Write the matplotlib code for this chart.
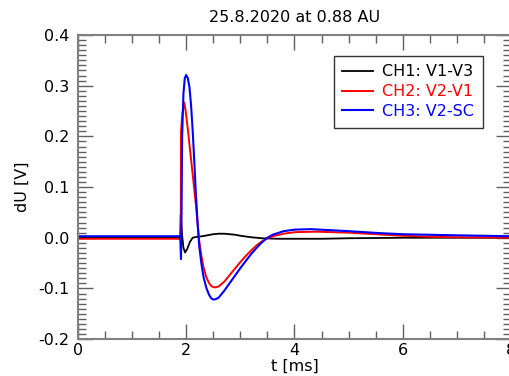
import numpy as np
import matplotlib
matplotlib.use("Agg")
from matplotlib import pyplot as plt
from matplotlib.ticker import MultipleLocator, FormatStrFormatter

plt.rcParams['axes.unicode_minus'] = False
plt.rcParams['font.family'] = 'DejaVu Sans'

# CH1: V1-V3 (black)
t1 = [0.0, 1.0, 1.89, 1.90, 1.92, 1.95, 1.98, 2.02, 2.07, 2.12, 2.2, 2.3, 2.4, 2.5,
      2.6, 2.7, 2.8, 2.9, 3.0, 3.2, 3.4, 3.7, 4.0, 4.5, 5.0, 6.0, 7.0, 8.0]
v1 = [0.001, 0.001, 0.001, 0.045, 0.01, -0.02, -0.029, -0.022, -0.008, 0.0, 0.002, 0.003,
      0.005, 0.007, 0.008, 0.008, 0.007, 0.006, 0.004, 0.001, -0.001, -0.002, -0.002,
      -0.002, -0.001, 0.0, 0.0, 0.0]

# CH2: V2-V1 (red)
t2 = [0.0, 1.0, 1.90, 1.905, 1.93, 1.965, 1.99, 2.03, 2.07, 2.11, 2.15, 2.18, 2.21,
      2.24, 2.28, 2.32, 2.37, 2.42, 2.47, 2.53, 2.6, 2.7, 2.8, 2.9, 3.0, 3.1, 3.2, 3.3,
      3.4, 3.5, 3.6, 3.8, 4.0, 4.4, 5.0, 5.5, 6.0, 6.5, 7.0, 8.0]
v2 = [-0.002, -0.002, -0.002, 0.21, 0.245, 0.267, 0.25, 0.215, 0.175, 0.135, 0.095,
      0.065, 0.03, -0.005, -0.035, -0.058, -0.077, -0.089, -0.096, -0.098, -0.096,
      -0.087, -0.074, -0.061, -0.048, -0.036, -0.025, -0.015, -0.007, -0.001, 0.003,
      0.008, 0.011, 0.012, 0.010, 0.007, 0.004, 0.002, 0.001, 0.0]

# CH3: V2-SC (blue)
t3 = [0.0, 1.0, 1.89, 1.905, 1.915, 1.925, 1.95, 1.975, 2.0, 2.03, 2.06, 2.09, 2.12,
      2.15, 2.18, 2.21, 2.24, 2.28, 2.32, 2.37, 2.42, 2.46, 2.5, 2.55, 2.6, 2.7, 2.8,
      2.9, 3.0, 3.1, 3.2, 3.3, 3.4, 3.5, 3.6, 3.8, 4.0, 4.3, 5.0, 5.6, 6.0, 6.9, 8.0]
v3 = [0.003, 0.003, 0.003, -0.042, 0.05, 0.2, 0.285, 0.315, 0.321, 0.315, 0.298, 0.262,
      0.212, 0.15, 0.085, 0.03, -0.015, -0.05, -0.077, -0.098, -0.112, -0.119, -0.122,
      -0.121, -0.118, -0.105, -0.09, -0.075, -0.06, -0.046, -0.032, -0.02, -0.009, 0.0,
      0.006, 0.013, 0.016, 0.017, 0.013, 0.009, 0.007, 0.005, 0.003]

fig = plt.figure(figsize=(5.09, 3.76), dpi=100)
ax = fig.add_axes([0.153, 0.098, 0.851, 0.809])

ax.plot(t1, v1, color='black', lw=1.3, label='CH1: V1-V3')
ax.plot(t2, v2, color='red', lw=1.4, label='CH2: V2-V1')
ax.plot(t3, v3, color='blue', lw=1.5, label='CH3: V2-SC')

ax.set_xlim(0, 8)
ax.set_ylim(-0.2, 0.4)
ax.xaxis.set_major_locator(MultipleLocator(2))
ax.xaxis.set_minor_locator(MultipleLocator(0.5))
ax.yaxis.set_major_locator(MultipleLocator(0.1))
ax.yaxis.set_minor_locator(MultipleLocator(0.01))
ax.yaxis.set_major_formatter(FormatStrFormatter('%.1f'))

for s in ax.spines.values():
    s.set_color('#808080')
    s.set_linewidth(1.5)
ax.tick_params(which='both', direction='in', top=True, right=True, color='#606060',
               labelsize=11.5)
ax.tick_params(which='major', length=10.5, width=1)
ax.tick_params(which='minor', length=5.5, width=1)
ax.tick_params(axis='y', pad=6)
ax.tick_params(axis='x', pad=3)

ax.set_xlabel('t [ms]', fontsize=11.5, labelpad=0)
ax.set_ylabel('dU [V]', fontsize=11.5, labelpad=6)
ax.set_title('25.8.2020 at 0.88 AU', fontsize=11.5, pad=9)

leg = ax.legend(loc='upper right', bbox_to_anchor=(0.935, 0.932), borderaxespad=0,
                fancybox=False, framealpha=1, edgecolor='#333333', fontsize=11.5,
                handlelength=1.9, handletextpad=0.6, labelspacing=0.3,
                borderpad=0.55, labelcolor='linecolor')
leg.get_frame().set_linewidth(1.0)

fig.savefig('out.png', dpi=100)
